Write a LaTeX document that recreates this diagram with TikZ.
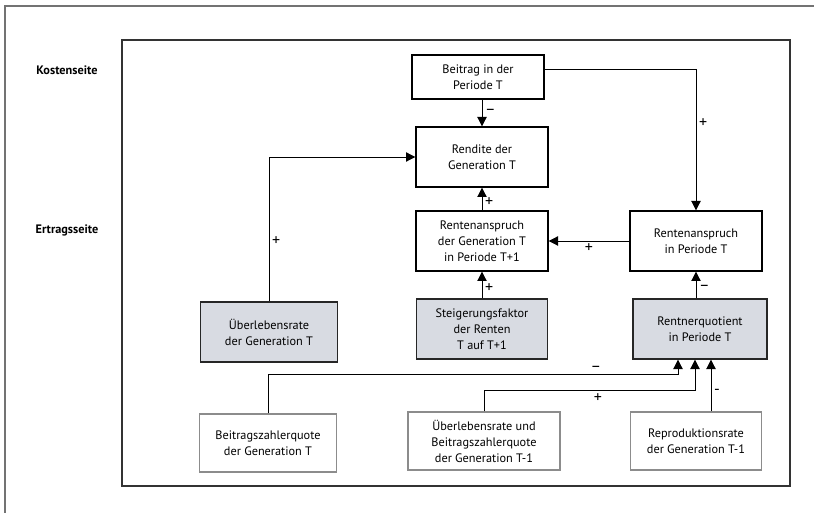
\documentclass[tikz,border=0pt]{standalone}
\usepackage{fontspec}
\setmainfont{PT Sans}
\usepackage{tikz}
\usetikzlibrary{positioning, calc, arrows.meta}
\definecolor{boxgrey}{RGB}{216,219,226}

\begin{document}
\begin{tikzpicture}[x=0.75pt,y=-0.75pt,box/.style={draw, line width=1pt, align=center, inner sep=0pt, minimum width=99pt, minimum height=45pt, font=\fontsize{9.2}{12}\selectfont},greybox/.style={box, fill=boxgrey, draw=black!85},leafbox/.style={box, draw=black!45, line width=0.8pt, minimum height=43.5pt},arr/.style={line width=0.6pt, -{Triangle[length=7pt,width=7pt]}},sign/.style={font=\fontsize{12}{12}\selectfont, inner sep=2pt}]
\useasboundingbox (0,0) rectangle (814,513);
\draw[black!55, line width=1.2pt] (814,6) -- (5,6) -- (5,513);
\draw[black!80, line width=1.2pt] (122,40) rectangle (790,486);
\node[font=\bfseries\fontsize{9.2}{12}\selectfont] (kosten) at (67,70) {Kostenseite};
\node[font=\bfseries\fontsize{9.2}{12}\selectfont] (ertrag) at (67,230) {Ertragsseite};
% obere Reihe
\node[box, minimum height=33pt] (beitrag) at (478,77) {Beitrag in der\\Periode T};
\node[box] (rendite) at (482,157) {Rendite der\\Generation T};
\node[box] (anspruchG) at (482,241) {Rentenanspruch\\der Generation T\\in Periode T+1};
\node[box] (anspruchP) at (696,241) {Rentenanspruch\\in Periode T};
% graue Kaesten
\node[greybox, minimum width=102.75pt] (ueberleben) at (269,332) {Überlebensrate\\der Generation T};
\node[greybox, minimum width=98.25pt] (steigerung) at (482,329) {Steigerungsfaktor\\der Renten\\T auf T+1};
\node[greybox, minimum width=100.5pt] (quotient) at (700,329) {Rentnerquotient\\in Periode T};
% untere Reihe
\node[leafbox, minimum width=102.75pt] (zahlerquote) at (268,443) {Beitragszahlerquote\\der Generation T};
\node[leafbox, minimum width=114pt] (ueberlebenT) at (484,441) {Überlebensrate und\\Beitragszahlerquote\\der Generation T-1};
\node[leafbox, minimum width=98.25pt] (reproduktion) at (696,441) {Reproduktionsrate\\der Generation T-1};
\coordinate (q1) at ([xshift=-16.5pt]quotient.south);
\coordinate (q2) at ([xshift=-3.75pt]quotient.south);
\coordinate (q3) at ([xshift=8.25pt]quotient.south);
\draw[arr] (rendite.north |- beitrag.south) -- node[sign, right, pos=0.45] {–} (rendite.north);
\draw[arr] ([yshift=6pt]beitrag.east) -| node[sign, right, pos=0.69] {+} (anspruchP.north);
\draw[arr] (anspruchG.north) -- node[sign, right, pos=0.35] {+} (rendite.south);
\draw[arr] (steigerung.north) -- node[sign, right, pos=0.4] {+} (anspruchG.south);
\draw[arr] (anspruchP.west) -- node[sign, below, pos=0.5] {+} (anspruchG.east);
\draw[arr] (anspruchP.south |- quotient.north) -- node[sign, right, pos=0.4] {–} (anspruchP.south);
\draw[arr] (ueberleben.north) |- node[sign, right, pos=0.21] {+} (rendite.west);
\draw[arr] (zahlerquote.north) |- ($(q1)+(0,15)$) node[sign, above, pos=0.9] {–} -- (q1);
\draw[arr] (ueberlebenT.north) |- ($(q2)+(0,31)$) node[sign, below, pos=0.77] {+} -- (q2);
\draw[arr] (q3 |- reproduktion.north) -- node[sign, right, pos=0.38] {-} (q3);
\end{tikzpicture}
\end{document}
